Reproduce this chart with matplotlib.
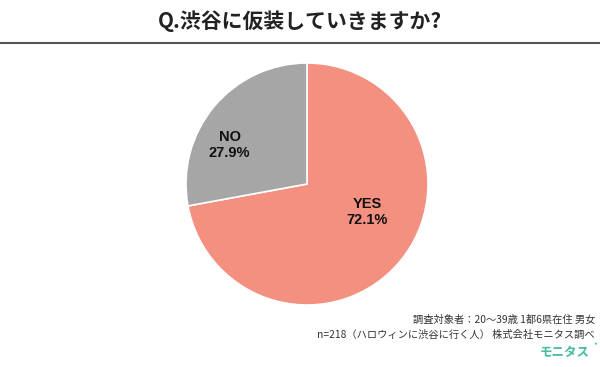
import matplotlib
matplotlib.use("Agg")
import matplotlib.pyplot as plt

plt.rcParams['font.family'] = ['Noto Sans CJK JP', 'DejaVu Sans']

labels = ["YES", "NO"]
values = [72.1, 27.9]
colors = ["#F4907F", "#A6A6A6"]
title = "Q.渋谷に仮装していきますか?"
note1 = "調査対象者：20～39歳 1都6県在住 男女"
note2 = "n=218（ハロウィンに渋谷に行く人） 株式会社モニタス調べ"
brand = "モニタス"

fig = plt.figure(figsize=(6, 3.67), dpi=100)
fig.patch.set_facecolor("white")

fig.text(0.5, 1 - 21/367, title, ha="center", va="center", fontsize=15, fontweight="bold", color="#222222")
fig.add_artist(plt.Line2D([0, 1], [1 - 43/367, 1 - 43/367], color="#555555", lw=1.5))

ax = fig.add_axes([186/600, 62/367, 242/600, 242/367])
ax.pie(values, colors=colors, startangle=90, counterclock=False,
       wedgeprops=dict(edgecolor="white", linewidth=1.2))
ax.set_aspect("equal")
ax.set_xlim(-1, 1)
ax.set_ylim(-1, 1)

label_pos = [(0.50, -0.23), (-0.64, 0.32)]
for lab, v, (x, y) in zip(labels, values, label_pos):
    ax.text(x, y, f"{lab}\n{v}%", ha="center", va="center", fontsize=10.5,
            fontweight="bold", color="#111111", linespacing=1.15,
            family=["Liberation Sans", "DejaVu Sans"])

fig.text(595/600, 1 - 320/367, note1, ha="right", va="center", fontsize=7.4, color="#333333")
fig.text(595/600, 1 - 335/367, note2, ha="right", va="center", fontsize=7.4, color="#333333")
fig.text(590/600, 1 - 352/367, brand, ha="right", va="center", fontsize=9, fontweight="bold", color="#45BCA2")
fig.text(597/600, 1 - 346/367, "*", ha="right", va="center", fontsize=6, color="#45BCA2")

fig.savefig("out.png", dpi=100, facecolor="white")
